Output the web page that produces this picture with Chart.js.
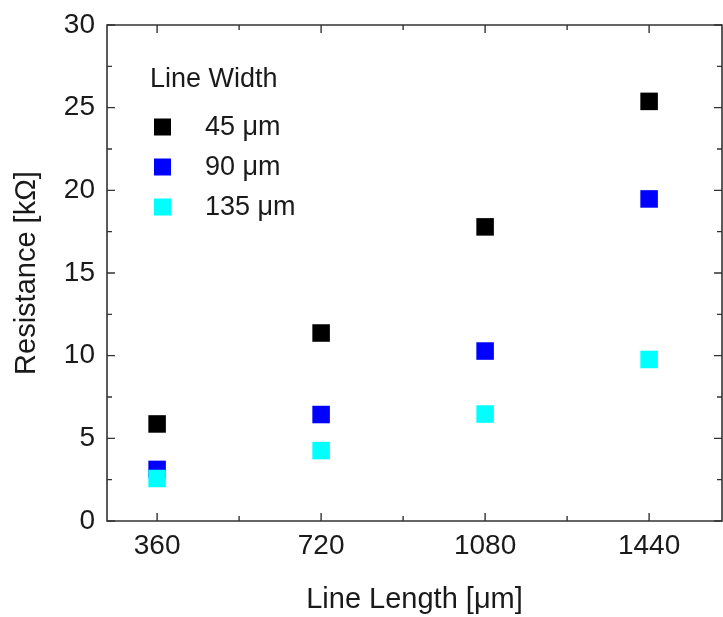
<!DOCTYPE html>
<html>
<head>
<meta charset="utf-8">
<script src="https://cdn.jsdelivr.net/npm/chart.js@4/dist/chart.umd.min.js"></script>
<style>
  html, body { margin: 0; padding: 0; background: #fff; }
  #wrap { width: 723px; height: 617px; }
</style>
</head>
<body>
<div id="wrap"><canvas id="c" width="723" height="617"></canvas></div>
<script>
// ---- data ----
const lineLengths = [360, 720, 1080, 1440];
const seriesLabels = ['45 \u03bcm', '90 \u03bcm', '135 \u03bcm'];
const res45 = [5.87, 11.37, 17.79, 25.38];
const res90 = [3.12, 6.44, 10.28, 19.48];
const res135 = [2.57, 4.26, 6.47, 9.77];
const yTicks = [0, 5, 10, 15, 20, 25, 30];
const xMinorTicks = [540, 900, 1260];
const yMinorTicks = [2.5, 7.5, 12.5, 17.5, 22.5, 27.5];
const seriesColors = ['#000000', '#0000ff', '#00ffff'];
const legendTitle = 'Line Width';

const FONT = '"Liberation Sans", Arial, sans-serif';
const AXIS_COLOR = '#333333';
const TEXT_COLOR = '#1a1a1a';

function pts(vals) { return lineLengths.map((x, i) => ({ x: x, y: vals[i] })); }

const allSeries = [res45, res90, res135];
const datasets = allSeries.map((vals, i) => ({
  label: seriesLabels[i],
  data: pts(vals),
  pointStyle: 'rect',
  pointRadius: 12.4,
  pointHoverRadius: 12.4,
  backgroundColor: seriesColors[i],
  borderColor: seriesColors[i],
  borderWidth: 0,
  showLine: false,
  order: 2 - i
}));

const framePlugin = {
  id: 'frame',
  afterDatasetsDraw(chart) {
    const { ctx, chartArea: a, scales } = chart;
    const xs = scales.x, ys = scales.y;
    ctx.save();
    ctx.strokeStyle = AXIS_COLOR;
    ctx.lineWidth = 1.6;
    ctx.beginPath();
    ctx.rect(a.left, a.top, a.right - a.left, a.bottom - a.top);
    ctx.stroke();
    ctx.lineWidth = 1.4;
    ctx.beginPath();
    const major = 8, minor = 5;
    lineLengths.forEach(v => {
      const px = xs.getPixelForValue(v);
      ctx.moveTo(px, a.bottom); ctx.lineTo(px, a.bottom - major);
      ctx.moveTo(px, a.top); ctx.lineTo(px, a.top + major);
    });
    xMinorTicks.forEach(v => {
      const px = xs.getPixelForValue(v);
      ctx.moveTo(px, a.bottom); ctx.lineTo(px, a.bottom - minor);
      ctx.moveTo(px, a.top); ctx.lineTo(px, a.top + minor);
    });
    yTicks.forEach(v => {
      const py = ys.getPixelForValue(v);
      ctx.moveTo(a.left, py); ctx.lineTo(a.left + major, py);
      ctx.moveTo(a.right, py); ctx.lineTo(a.right - major, py);
    });
    yMinorTicks.forEach(v => {
      const py = ys.getPixelForValue(v);
      ctx.moveTo(a.left, py); ctx.lineTo(a.left + minor, py);
      ctx.moveTo(a.right, py); ctx.lineTo(a.right - minor, py);
    });
    ctx.stroke();
    ctx.restore();
  }
};

const legendPlugin = {
  id: 'insideLegend',
  afterDraw(chart) {
    const { ctx } = chart;
    ctx.save();
    ctx.fillStyle = TEXT_COLOR;
    ctx.font = '27px ' + FONT;
    ctx.textAlign = 'left';
    ctx.textBaseline = 'middle';
    ctx.fillText(legendTitle, 150, 80);
    const rowsY = [127, 167, 207];
    chart.data.datasets.forEach((ds, i) => {
      const cy = rowsY[i];
      ctx.fillStyle = ds.backgroundColor;
      ctx.fillRect(154, cy - 8.5, 17, 17);
      ctx.fillStyle = TEXT_COLOR;
      ctx.fillText(ds.label, 205, cy + 1);
    });
    ctx.restore();
  }
};

new Chart(document.getElementById('c'), {
  type: 'scatter',
  data: { datasets },
  options: {
    responsive: false,
    animation: false,
    events: [],
    layout: { autoPadding: false, padding: { top: 25, right: 1, left: 0, bottom: 0 } },
    plugins: { legend: { display: false }, tooltip: { enabled: false } },
    scales: {
      x: {
        type: 'linear',
        min: 250,
        max: 1600,
        afterBuildTicks: s => { s.ticks = lineLengths.map(v => ({ value: v })); },
        afterFit: s => { s.height = 96; s.paddingLeft = 0; s.paddingRight = 0; },
        grid: { display: false, drawTicks: false },
        border: { display: false },
        ticks: {
          padding: 8,
          color: TEXT_COLOR,
          font: { family: FONT, size: 28 },
          maxRotation: 0,
          callback: v => String(v)
        },
        title: {
          display: true,
          text: 'Line Length [\u03bcm]',
          color: TEXT_COLOR,
          font: { family: FONT, size: 29 },
          padding: { top: 0, bottom: 0 }
        }
      },
      y: {
        type: 'linear',
        min: 0,
        max: 30,
        afterBuildTicks: s => { s.ticks = yTicks.map(v => ({ value: v })); },
        afterFit: s => { s.width = 107; s.paddingTop = 0; s.paddingBottom = 0; },
        grid: { display: false, drawTicks: false },
        border: { display: false },
        ticks: {
          padding: 12,
          color: TEXT_COLOR,
          font: { family: FONT, size: 28 },
          callback: v => String(v)
        },
        title: {
          display: true,
          text: 'Resistance [k\u03a9]',
          color: TEXT_COLOR,
          font: { family: FONT, size: 29 },
          padding: { top: 10, bottom: 0 }
        }
      }
    }
  },
  plugins: [framePlugin, legendPlugin]
});
</script>
</body>
</html>
